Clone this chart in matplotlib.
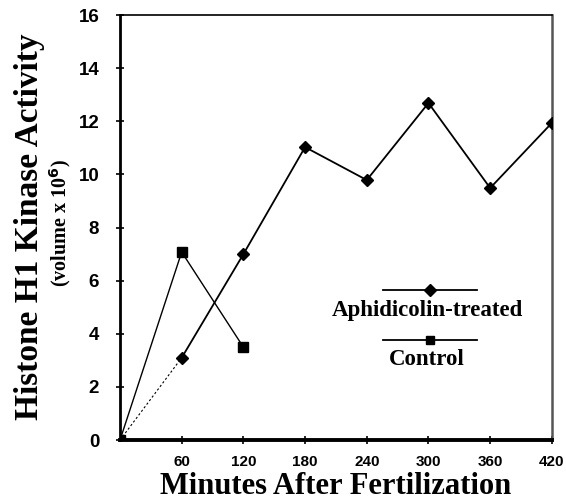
import matplotlib.pyplot as plt

# Datos
minutos_afid = [0, 60, 120, 180, 240, 300, 360, 420]
actividad_afid = [0, 3.1, 7.0, 11.03, 9.79, 12.69, 9.49, 11.94]
minutos_ctrl = [0, 60, 120]
actividad_ctrl = [0, 7.08, 3.5]
ticks_x = [60, 120, 180, 240, 300, 360, 420]
ticks_y = [0, 2, 4, 6, 8, 10, 12, 14, 16]

serif = ['Liberation Serif', 'DejaVu Serif']
sans = ['Liberation Sans', 'DejaVu Sans']

fig = plt.figure(figsize=(5.66, 5.03), dpi=100)
ax = fig.add_axes([0.212, 0.125, 0.763, 0.845])

# Aphidicolin: primer tramo punteado, resto continuo
ax.plot(minutos_afid[:2], actividad_afid[:2], color='black', lw=0.8, ls=(0, (2, 2)))
ax.plot(minutos_afid[1:], actividad_afid[1:], color='black', lw=1.3,
        marker='D', markersize=6, zorder=3)
ax.plot(minutos_ctrl, actividad_ctrl, color='black', lw=1.0,
        marker='s', markersize=6.5, zorder=3)

ax.set_xlim(0, 420)
ax.set_ylim(0, 16)
ax.set_xticks(ticks_x)
ax.set_xticklabels([str(t) for t in ticks_x], fontfamily=sans, fontweight='bold', fontsize=11)
ax.set_yticks(ticks_y)
ax.set_yticklabels([str(t) for t in ticks_y], fontfamily=sans, fontweight='bold', fontsize=13.5)
ax.tick_params(direction='inout', length=6, width=1.2, colors='black')
ax.tick_params(axis='y', pad=12)
ax.tick_params(axis='x', pad=8)

ax.spines['bottom'].set_linewidth(2.8)
ax.spines['left'].set_linewidth(2.0)
ax.spines['top'].set_linewidth(1.2)
ax.spines['right'].set_linewidth(1.8)
ax.spines['right'].set_color('#555555')

ax.set_xlabel('Minutes After Fertilization', fontfamily=serif, fontweight='bold',
              fontsize=22, labelpad=2)
fig.text(0.052, 0.55, 'Histone H1 Kinase Activity', rotation=90, ha='center', va='center',
         fontfamily=serif, fontweight='bold', fontsize=24)
fig.text(0.106, 0.556, r'(volume x 10$^{\mathbf{6}}$)', rotation=90, ha='center', va='center',
         fontfamily=serif, fontweight='bold', fontsize=14.5)

# Leyenda manual
ax.plot([0.609, 0.826], [0.353, 0.353], transform=ax.transAxes, color='black', lw=1.3)
ax.plot([0.7175], [0.353], transform=ax.transAxes, color='black', marker='D', markersize=6)
ax.text(0.711, 0.304, 'Aphidicolin-treated', transform=ax.transAxes, ha='center', va='center',
        fontfamily=serif, fontweight='bold', fontsize=16.5)
ax.plot([0.609, 0.826], [0.235, 0.235], transform=ax.transAxes, color='black', lw=1.3)
ax.plot([0.7175], [0.235], transform=ax.transAxes, color='black', marker='s', markersize=5.5)
ax.text(0.711, 0.19, 'Control', transform=ax.transAxes, ha='center', va='center',
        fontfamily=serif, fontweight='bold', fontsize=16.5)

fig.savefig('out.png', dpi=100)
